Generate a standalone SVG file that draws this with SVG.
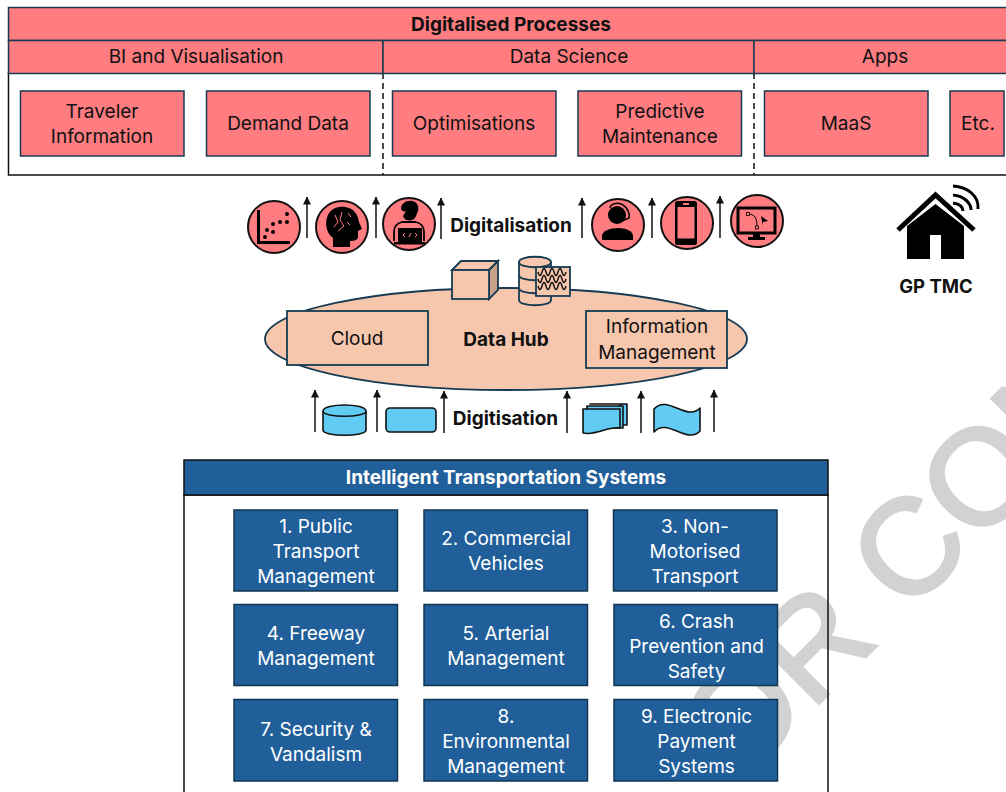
<svg xmlns="http://www.w3.org/2000/svg" width="1006" height="792" viewBox="0 0 1006 792">
<style>
text{font-family:"Inter","Noto Sans","Liberation Sans",sans-serif;text-anchor:middle;font-size:19px;fill:#111}
.b{font-weight:700}
.w{fill:#fff}
.r{fill:#FF7C80;stroke:#163B52;stroke-width:1.5}
.e{fill:#F6C6AD;stroke:#163B52;stroke-width:1.8}
.t{fill:#215F9A;stroke:#123550;stroke-width:1.5}
.c{fill:#61CBF3;stroke:#111;stroke-width:1.6;stroke-linejoin:round}
.i{fill:#FF7C80;stroke:#111;stroke-width:2}
.a{stroke:#111;stroke-width:1.5;fill:none;marker-end:url(#h)}
.k{fill:#000}
.n{fill:none;stroke:#000}
.p{fill:none;stroke:#FF7C80}
</style>
<defs><marker id="h" markerUnits="userSpaceOnUse" markerWidth="8" markerHeight="8" refX="7.500" refY="4" orient="auto"><path d="M0,0L8,4L0,8Z" fill="#111"/></marker></defs>

<text transform="translate(737,785) rotate(-45)" style="font-family:'Liberation Sans',sans-serif;font-size:135px;text-anchor:start;fill:#D2D2D2;stroke:#D2D2D2;stroke-width:3.500">OR CON</text>

<g id="processes">
<rect x="8.500" y="7.500" width="1000" height="33" class="r"/>
<text x="511" y="31" class="b">Digitalised Processes</text>
<rect x="8.500" y="73" width="1000" height="102" fill="none" stroke="#111" stroke-width="1.500"/>
<path d="M383,73V175M754,73V175" fill="none" stroke="#111" stroke-width="1.500" stroke-dasharray="6 4"/>
</g>
<g id="bi"><rect x="8.500" y="40.500" width="374.500" height="33" class="r"/><text x="196" y="63">BI and Visualisation</text></g>
<g id="ds"><rect x="383" y="40.500" width="371" height="33" class="r"/><text x="569" y="63">Data Science</text></g>
<g id="apps"><rect x="754" y="40.500" width="254" height="33" class="r"/><text x="885" y="63">Apps</text></g>
<g id="traveler"><rect x="20.500" y="91" width="163.500" height="65" class="r"/><text x="102" y="118">Traveler</text><text x="102" y="143">Information</text></g>
<g id="demand"><rect x="206.500" y="91" width="163.500" height="65" class="r"/><text x="288" y="130">Demand Data</text></g>
<g id="optim"><rect x="392.500" y="91" width="163.500" height="65" class="r"/><text x="474" y="130">Optimisations</text></g>
<g id="predict"><rect x="578" y="91" width="163.500" height="65" class="r"/><text x="660" y="118">Predictive</text><text x="660" y="143">Maintenance</text></g>
<g id="maas"><rect x="764.500" y="91" width="163.500" height="65" class="r"/><text x="846" y="130">MaaS</text></g>
<g id="etc"><rect x="950" y="91" width="54" height="65" class="r"/><text x="978" y="130">Etc.</text></g>

<g id="icon-scatter"><circle cx="274" cy="227" r="26" class="i"/><path d="M258.500,210V242.500H290" class="n" stroke-width="3"/><g class="k"><circle cx="265" cy="237" r="2"/><circle cx="267" cy="230" r="2"/><circle cx="273" cy="232" r="2"/><circle cx="273" cy="224" r="2"/><circle cx="280" cy="222" r="2"/><circle cx="287" cy="222" r="2"/><circle cx="287" cy="214" r="2"/></g></g>
<g id="icon-brain"><circle cx="342" cy="227" r="26" class="i"/><path class="k" d="M333,247V238C325,232 325,221 328,215C331,208 339,206 345,207C354,208 358,215 359,222L362,229L358,231V237C358,240 354,241 350,241V247Z"/><path class="p" stroke-width="1" d="M335,215L338,222L334,227M342,212L340,220L344,226L338,231M348,213L351,217M347,222L350,225"/></g>
<g id="icon-coder"><circle cx="409" cy="224" r="26" class="i"/><path class="k" d="M401,209C401,203 407,200 412,201C418,202 419,207 418,211L416,216C414,222 405,222 403,216L406,211C404,212 402,211 401,209Z"/><path class="n" stroke-width="1.800" d="M402,222H416M394,241V232C394,226 398,223 402,222M424,241V232C424,226 420,223 416,222"/><rect x="398" y="228" width="24" height="14" class="k"/><rect x="394" y="242" width="31" height="2.500" class="k"/><path class="p" stroke-width="1" d="M405,233L403,235L405,237M409,237L411,233M415,233L417,235L415,237"/></g>
<g id="icon-support"><circle cx="618" cy="225" r="26" class="i"/><circle cx="617" cy="215" r="9" class="k"/><path class="k" d="M602,240V236C602,231 610,228 618,228C626,228 633,231 633,236V240Z"/><path class="n" stroke-width="1.500" d="M610,208C611,203 619,202 623,205C628,208 630,214 629,218L622,221"/></g>
<g id="icon-phone"><circle cx="687" cy="223" r="26" class="i"/><rect x="675" y="201" width="22" height="44" rx="2.500" class="k"/><rect x="677.500" y="207" width="17" height="31.500" fill="#FF7C80"/><rect x="683" y="203" width="6" height="2" fill="#FF7C80"/></g>
<g id="icon-screen"><circle cx="757" cy="221" r="26" class="i"/><rect x="738" y="208" width="37" height="25" fill="none" stroke="#000" stroke-width="3"/><path class="k" d="M753,233H760V237H765V240H748V237H753Z"/><path class="n" stroke-width="1" d="M748,214C755,214 757,218 757,227"/><rect x="746.500" y="212.500" width="3" height="3" fill="#FF7C80" stroke="#000" stroke-width=".8"/><rect x="755.500" y="226" width="3" height="3" fill="#FF7C80" stroke="#000" stroke-width=".8"/><path class="k" d="M761,216L768,221L763,222L763,226Z"/></g>

<text x="511" y="232" class="b">Digitalisation</text>

<g id="gp-tmc"><path class="k" d="M907,226L935.500,204L964,226V259H941V235H930V259H907Z"/><path d="M898,230L935.500,195L974,230" fill="none" stroke="#000" stroke-width="5"/><path class="n" stroke-width="3" d="M953,203C960,204 963,207 963,211M953,195C964,196 971,203 971,210M953,186C968,187 979,196 978,209"/><text x="936" y="293" class="b" style="font-size:18.500px">GP TMC</text></g>

<g id="data-hub">
<ellipse cx="506" cy="339" rx="241" ry="51" class="e"/>
<text x="506" y="346" class="b">Data Hub</text>
</g>
<g id="cloud"><rect x="287" y="311" width="141" height="54" class="e"/><text x="357" y="345">Cloud</text></g>
<g id="info"><rect x="586" y="311" width="141" height="57" class="e"/><text x="657" y="333">Information</text><text x="657" y="359">Management</text></g>
<g id="cube"><path d="M452,270L461,261H498L489,270Z" class="e"/><path d="M489,270L498,261V290L489,299Z" fill="#C9A08A" stroke="#163B52" stroke-width="1.800"/><rect x="452" y="270" width="37" height="29" class="e"/></g>
<g id="database">
<path d="M519,262C519,255 551,255 551,262V300C551,307 519,307 519,300Z" class="e"/>
<path d="M519,262C519,269 551,269 551,262M519,275C519,282 551,282 551,275M519,288C519,295 551,295 551,288" fill="none" stroke="#163B52" stroke-width="1.800"/>
<rect x="536" y="267" width="34" height="29" class="e"/>
<path d="M538,272q2,7 4,0t4,0t4,0t4,0t4,0t4,0t4,0M538,279q2,7 4,0t4,0t4,0t4,0t4,0t4,0t4,0M538,286q2,7 4,0t4,0t4,0t4,0t4,0t4,0t4,0" fill="none" stroke="#111" stroke-width="1.400"/>
</g>

<g id="connectors">
<path class="a" d="M307,238V197"/><path class="a" d="M376,238V197"/><path class="a" d="M441,239V198"/>
<path class="a" d="M582,238V198"/><path class="a" d="M652,238V198"/><path class="a" d="M720,238V196"/>
<path class="a" d="M315,432V390"/><path class="a" d="M377,432V390"/><path class="a" d="M444,433V391"/>
<path class="a" d="M567,433V391"/><path class="a" d="M641,433V391"/><path class="a" d="M714,432V390"/>
</g>

<g id="src-cylinder"><path class="c" d="M323,411C323,403 366,403 366,411V430C366,437 323,437 323,430Z"/><path d="M323,411C323,418 366,418 366,411" fill="none" stroke="#111" stroke-width="1.500"/></g>
<g id="src-process"><rect x="386" y="408" width="50" height="24" rx="4" class="c"/></g>
<text x="505.500" y="425" class="b">Digitisation</text>
<g id="src-docs"><path class="c" d="M590,404H627V425H620V404Z"/><path class="c" d="M587,406H623V428H587Z"/><path class="c" d="M583,409H620V428C607,426 597,436 583,433Z"/></g>
<g id="src-tape"><path class="c" d="M654,409C667,394 687,422 700,408V431C687,445 667,417 654,432Z"/></g>

<g id="its"><rect x="184" y="495" width="644" height="320" fill="none" stroke="#111" stroke-width="1.500"/><rect x="184" y="460" width="644" height="35" fill="#215F9A" stroke="#111" stroke-width="1.500"/><text x="506" y="484" class="b w">Intelligent Transportation Systems</text></g>
<g id="n1"><rect x="234" y="510" width="163.500" height="81" class="t"/><text x="316" y="533" class="w">1. Public</text><text x="316" y="558" class="w">Transport</text><text x="316" y="583" class="w">Management</text></g>
<g id="n2"><rect x="424" y="510" width="163.500" height="81" class="t"/><text x="506" y="545" class="w">2. Commercial</text><text x="506" y="570" class="w">Vehicles</text></g>
<g id="n3"><rect x="613.500" y="510" width="163.500" height="81" class="t"/><text x="695" y="533" class="w">3. Non-</text><text x="695" y="558" class="w">Motorised</text><text x="695" y="583" class="w">Transport</text></g>
<g id="n4"><rect x="234" y="604.500" width="163.500" height="81" class="t"/><text x="316" y="640" class="w">4. Freeway</text><text x="316" y="665" class="w">Management</text></g>
<g id="n5"><rect x="424" y="604.500" width="163.500" height="81" class="t"/><text x="506" y="640" class="w">5. Arterial</text><text x="506" y="665" class="w">Management</text></g>
<g id="n6"><rect x="614" y="604.500" width="163.500" height="81" class="t"/><text x="696.500" y="628" class="w">6. Crash</text><text x="696.500" y="653" class="w">Prevention and</text><text x="696.500" y="678" class="w">Safety</text></g>
<g id="n7"><rect x="234" y="699.500" width="163.500" height="81.500" class="t"/><text x="316" y="736" class="w">7. Security &amp;</text><text x="316" y="761" class="w">Vandalism</text></g>
<g id="n8"><rect x="424" y="699.500" width="163.500" height="81.500" class="t"/><text x="506" y="723" class="w">8.</text><text x="506" y="748" class="w">Environmental</text><text x="506" y="773" class="w">Management</text></g>
<g id="n9"><rect x="614" y="699.500" width="163.500" height="81.500" class="t"/><text x="696.500" y="723" class="w">9. Electronic</text><text x="696.500" y="748" class="w">Payment</text><text x="696.500" y="773" class="w">Systems</text></g>
</svg>
